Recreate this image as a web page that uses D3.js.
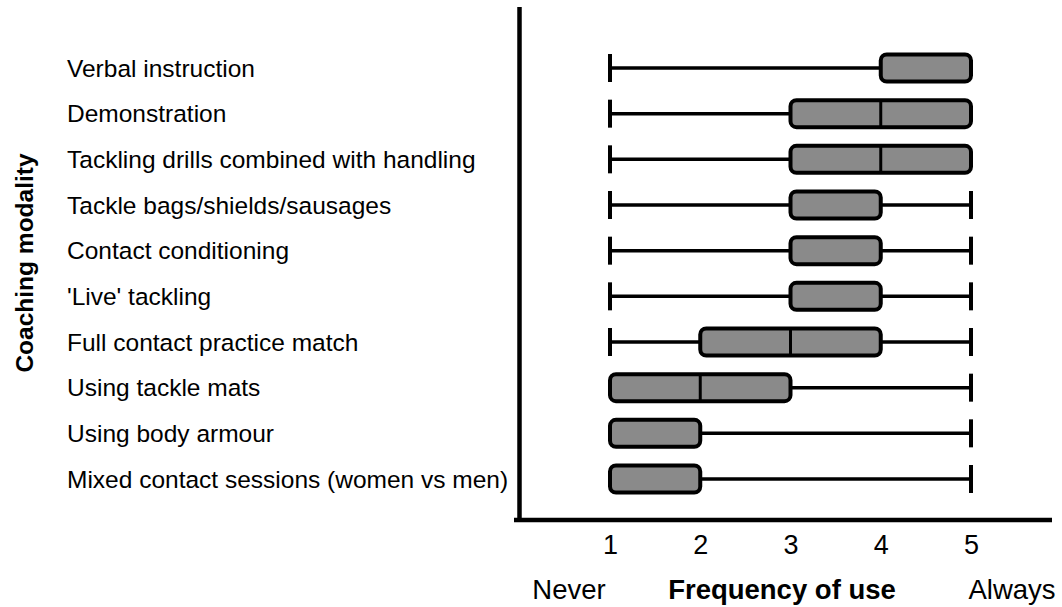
<!DOCTYPE html>
<html>
<head>
<meta charset="utf-8">
<script src="https://cdn.jsdelivr.net/npm/d3@7"></script>
<style>
  html, body { margin: 0; padding: 0; background: #fff; }
  svg { display: block; font-family: "Liberation Sans", Arial, sans-serif; }
</style>
</head>
<body>
<svg id="chart" width="1062" height="607"></svg>
<script>
const categories = [
  "Verbal instruction",
  "Demonstration",
  "Tackling drills combined with handling",
  "Tackle bags/shields/sausages",
  "Contact conditioning",
  "'Live' tackling",
  "Full contact practice match",
  "Using tackle mats",
  "Using body armour",
  "Mixed contact sessions (women vs men)"
];
const minValues    = [1, 1, 1, 1, 1, 1, 1, 1, 1, 1];
const q1Values     = [4, 3, 3, 3, 3, 3, 2, 1, 1, 1];
const medianValues = [5, 4, 4, 3, 3, 3, 3, 2, 1, 1];
const q3Values     = [5, 5, 5, 4, 4, 4, 4, 3, 2, 2];
const maxValues    = [5, 5, 5, 5, 5, 5, 5, 5, 5, 5];
const tickValues = [1, 2, 3, 4, 5];
const xTitle = "Frequency of use";
const yTitle = "Coaching modality";
const lowLabel = "Never";
const highLabel = "Always";

const data = categories.map((c, i) => ({
  name: c, min: minValues[i], q1: q1Values[i], med: medianValues[i], q3: q3Values[i], max: maxValues[i]
}));

const svg = d3.select("#chart");
const x = d3.scaleLinear().domain([1, 5]).range([610, 971]);
const y = d3.scalePoint().domain(categories).range([68, 479]);

const boxH = 27, capH = 28;

// axes lines
svg.append("line").attr("x1", 519.5).attr("x2", 519.5).attr("y1", 7).attr("y2", 522)
  .attr("stroke", "#000").attr("stroke-width", 4.5);
svg.append("line").attr("x1", 514).attr("x2", 1052).attr("y1", 520).attr("y2", 520)
  .attr("stroke", "#000").attr("stroke-width", 4.5);

// x axis tick labels via axis
const xAxis = d3.axisBottom(x).tickValues(tickValues).tickSize(0).tickPadding(0).tickFormat(d3.format("d"));
const gx = svg.append("g").attr("transform", "translate(0,534)").call(xAxis);
gx.select(".domain").remove();
gx.selectAll("text").attr("font-size", 27).attr("fill", "#000")
  .attr("font-family", "'Liberation Sans', Arial, sans-serif").attr("dy", "0.75em");

// category labels
svg.append("g").selectAll("text").data(data).join("text")
  .attr("x", 67).attr("y", d => y(d.name)).attr("dy", "0.35em")
  .attr("font-size", 24.5).attr("fill", "#000").text(d => d.name);

const g = svg.append("g").selectAll("g").data(data).join("g")
  .attr("transform", d => `translate(0,${y(d.name)})`);

// whiskers
g.append("line").attr("x1", d => x(d.min)).attr("x2", d => x(d.q1)).attr("y1", 0).attr("y2", 0)
  .attr("stroke", "#000").attr("stroke-width", 3.5);
g.append("line").attr("x1", d => x(d.q3)).attr("x2", d => x(d.max)).attr("y1", 0).attr("y2", 0)
  .attr("stroke", "#000").attr("stroke-width", 3.5);
// caps
g.filter(d => d.min < d.q1).append("line").attr("x1", d => x(d.min)).attr("x2", d => x(d.min))
  .attr("y1", -capH / 2).attr("y2", capH / 2).attr("stroke", "#000").attr("stroke-width", 4);
g.filter(d => d.max > d.q3).append("line").attr("x1", d => x(d.max)).attr("x2", d => x(d.max))
  .attr("y1", -capH / 2).attr("y2", capH / 2).attr("stroke", "#000").attr("stroke-width", 4);
// boxes
g.append("rect").attr("x", d => x(d.q1)).attr("width", d => x(d.q3) - x(d.q1))
  .attr("y", -boxH / 2).attr("height", boxH).attr("rx", 6).attr("ry", 6)
  .attr("fill", "#8a8a8a").attr("stroke", "#000").attr("stroke-width", 4);
// medians
g.filter(d => d.med > d.q1 && d.med < d.q3).append("line")
  .attr("x1", d => x(d.med)).attr("x2", d => x(d.med))
  .attr("y1", -boxH / 2).attr("y2", boxH / 2).attr("stroke", "#000").attr("stroke-width", 3);

// bottom labels
svg.append("text").attr("x", 569).attr("y", 599).attr("text-anchor", "middle")
  .attr("font-size", 27.5).attr("fill", "#000").text(lowLabel);
svg.append("text").attr("x", 782).attr("y", 599).attr("text-anchor", "middle")
  .attr("font-size", 27.5).attr("font-weight", "bold").attr("fill", "#000").text(xTitle);
svg.append("text").attr("x", 1012).attr("y", 599).attr("text-anchor", "middle")
  .attr("font-size", 27.5).attr("fill", "#000").text(highLabel);

// y title
svg.append("text").attr("transform", "translate(33,263) rotate(-90)").attr("text-anchor", "middle")
  .attr("font-size", 24.5).attr("font-weight", "bold").attr("fill", "#000").text(yTitle);
</script>
</body>
</html>
